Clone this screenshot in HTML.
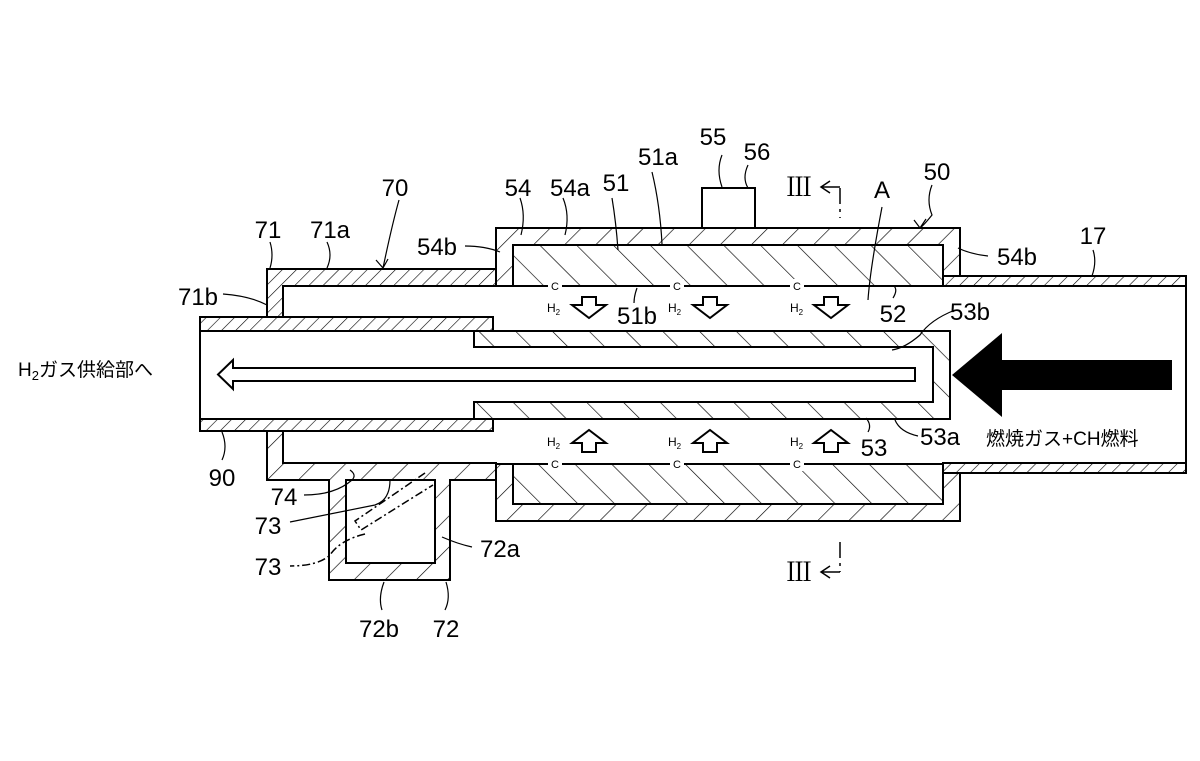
<!DOCTYPE html>
<html><head><meta charset="utf-8"><style>
html,body{margin:0;padding:0;background:#fff}
svg{display:block}
text{font-family:"Liberation Sans","Noto Sans CJK JP",sans-serif;fill:#000}
</style></head><body>
<svg width="1200" height="761" viewBox="0 0 1200 761" xmlns="http://www.w3.org/2000/svg">
<defs>
<pattern id="hb" patternUnits="userSpaceOnUse" width="26" height="26" patternTransform="rotate(-45)"><line x1="0" y1="0" x2="0" y2="26" stroke="#000" stroke-width="1.3"/></pattern>
<pattern id="hs" patternUnits="userSpaceOnUse" width="22" height="22" patternTransform="rotate(45)"><line x1="0" y1="0" x2="0" y2="22" stroke="#000" stroke-width="1.3"/></pattern>
<pattern id="hp" patternUnits="userSpaceOnUse" width="10" height="10" patternTransform="rotate(45)"><line x1="0" y1="0" x2="0" y2="10" stroke="#000" stroke-width="1.2"/></pattern>
</defs>
<g stroke="#000" stroke-width="2" fill="url(#hs)">
<path d="M496,228 H960 V276 H943 V245 H513 V286 H496 Z"/>
<path d="M496,464 H513 V504 H943 V473 H960 V521 H496 Z"/>
<path d="M943,276 H1186 V286 H943 Z" fill="url(#hp)"/>
<path d="M943,463 H1186 V473 H943 Z" fill="url(#hp)"/>
<rect x="513" y="245" width="430" height="41" fill="url(#hb)"/>
<rect x="513" y="464" width="430" height="40" fill="url(#hb)"/>
<path d="M267,269 H496 V286 H283 V317 H267 Z" fill="url(#hp)"/>
<path d="M267,431 H283 V463 H496 V480 H450 V580 H329 V480 H267 Z" fill="url(#hs)"/>
<rect x="200" y="317" width="293" height="14" fill="url(#hp)"/>
<rect x="200" y="419" width="293" height="12" fill="url(#hp)"/>
<path d="M474,331 H950 V419 H474 V402 H933 V347 H474 Z" fill="url(#hb)"/>
</g>
<g stroke="#000" stroke-width="2" fill="#fff">
<rect x="346" y="480" width="89" height="83"/>
<line x1="200" y1="331" x2="200" y2="419"/>
<line x1="1186" y1="286" x2="1186" y2="463"/>
<rect x="702" y="188" width="53" height="40"/>
<path d="M915,368 V381 H233 V389 L218,374.5 L233,360 V368 Z"/>
</g>
<g stroke="#000" stroke-width="1.5" fill="none" stroke-dasharray="8,3,2,3">
<path d="M425,473 L355,521 L361,530 L433,485"/>
<path d="M365,534 Q340,540 330,555 Q318,566 290,566"/>
</g>
<path d="M952,375 L1002,333 V360 H1172 V390 H1002 V417 Z" fill="#000"/>
<g font-size="11" text-anchor="middle">
<rect x="548" y="279" width="14" height="14" fill="#fff"/><text x="555" y="290">C</text>
<rect x="670" y="279" width="14" height="14" fill="#fff"/><text x="677" y="290">C</text>
<rect x="790" y="279" width="14" height="14" fill="#fff"/><text x="797" y="290">C</text>
<rect x="548" y="457" width="14" height="14" fill="#fff"/><text x="555" y="468">C</text>
<rect x="670" y="457" width="14" height="14" fill="#fff"/><text x="677" y="468">C</text>
<rect x="790" y="457" width="14" height="14" fill="#fff"/><text x="797" y="468">C</text>
</g>
<g stroke="#000" stroke-width="2" fill="#fff">
<path d="M582,297 H596 V305 H606 L589,318 L572,305 H582 Z"/>
<path d="M703,297 H717 V305 H727 L710,318 L693,305 H703 Z"/>
<path d="M824,297 H838 V305 H848 L831,318 L814,305 H824 Z"/>
<path d="M582,452 H596 V443 H606 L589,430 L572,443 H582 Z"/>
<path d="M703,452 H717 V443 H727 L710,430 L693,443 H703 Z"/>
<path d="M824,452 H838 V443 H848 L831,430 L814,443 H824 Z"/>
</g>
<g font-size="12">
<text x="547" y="312">H<tspan font-size="8" dy="3">2</tspan></text>
<text x="668" y="312">H<tspan font-size="8" dy="3">2</tspan></text>
<text x="790" y="312">H<tspan font-size="8" dy="3">2</tspan></text>
<text x="547" y="446">H<tspan font-size="8" dy="3">2</tspan></text>
<text x="668" y="446">H<tspan font-size="8" dy="3">2</tspan></text>
<text x="790" y="446">H<tspan font-size="8" dy="3">2</tspan></text>
</g>
<g stroke="#000" stroke-width="1.5" fill="none">
<path d="M840,188 V218" stroke-dasharray="16,5,3,5"/>
<path d="M840,187 H822 M830,181 L821,187 L830,193"/>
<path d="M840,542 V572" stroke-dasharray="16,5,3,5"/>
<path d="M840,572 H822 M830,566 L821,572 L830,578"/>
</g>
<g stroke="#000" stroke-width="1.2" fill="none">
<path d="M722,155 Q716,170 722,187"/>
<path d="M748,165 Q742,178 748,188"/>
<path d="M652,172 Q660,205 662,244"/>
<path d="M612,198 Q616,222 618,250"/>
<path d="M563,198 Q570,215 565,235"/>
<path d="M520,198 Q526,215 521,235"/>
<path d="M399,200 Q392,225 383,268 M376,260 L383,268 L388,259"/>
<path d="M270,242 Q274,255 270,268"/>
<path d="M327,242 Q333,255 327,268"/>
<path d="M465,246 Q485,246 500,252"/>
<path d="M223,294 Q250,296 267,305"/>
<path d="M882,207 Q870,270 868,300"/>
<path d="M932,185 Q926,200 932,215 Q924,225 920,228 M914,220 L920,228 L926,219"/>
<path d="M988,256 Q970,254 958,248"/>
<path d="M1093,250 Q1097,262 1092,276"/>
<path d="M893,298 Q898,290 894,286"/>
<path d="M955,310 Q930,320 920,335 Q905,348 892,350"/>
<path d="M634,303 Q634,296 637,288"/>
<path d="M918,436 Q900,432 895,420"/>
<path d="M868,432 Q872,425 866,418"/>
<path d="M222,460 Q228,447 222,432"/>
<path d="M304,495 Q335,495 352,480 Q357,475 350,470"/>
<path d="M290,522 Q340,512 375,505 Q390,500 390,480"/>
<path d="M472,547 Q458,544 442,537"/>
<path d="M382,610 Q378,598 384,582"/>
<path d="M445,610 Q451,598 446,582"/>
</g>
<g font-size="24" text-anchor="middle">
<text x="713" y="145">55</text>
<text x="757" y="160">56</text>
<text x="658" y="165">51a</text>
<text x="518" y="196">54</text>
<text x="570" y="196">54a</text>
<text x="616" y="191">51</text>
<text x="395" y="196">70</text>
<text x="268" y="238">71</text>
<text x="330" y="238">71a</text>
<text x="437" y="255">54b</text>
<text x="198" y="305">71b</text>
<text x="882" y="198">A</text>
<text x="937" y="180">50</text>
<text x="1017" y="265">54b</text>
<text x="1093" y="244">17</text>
<text x="893" y="322">52</text>
<text x="970" y="320">53b</text>
<text x="637" y="324">51b</text>
<text x="940" y="445">53a</text>
<text x="874" y="456">53</text>
<text x="222" y="486">90</text>
<text x="284" y="505">74</text>
<text x="268" y="534">73</text>
<text x="268" y="575">73</text>
<text x="500" y="557">72a</text>
<text x="379" y="637">72b</text>
<text x="446" y="637">72</text>
</g>
<g font-size="26">
<text x="786" y="196" style="font-family:'Liberation Serif','Noto Serif CJK SC',serif">Ⅲ</text>
<text x="786" y="581" style="font-family:'Liberation Serif','Noto Serif CJK SC',serif">Ⅲ</text>
</g>
<text x="18" y="376" font-size="19">H<tspan font-size="13" dy="4">2</tspan><tspan dy="-4">ガス供給部へ</tspan></text>
<text x="986" y="445" font-size="19">燃焼ガス+CH燃料</text>
</svg>
</body></html>
